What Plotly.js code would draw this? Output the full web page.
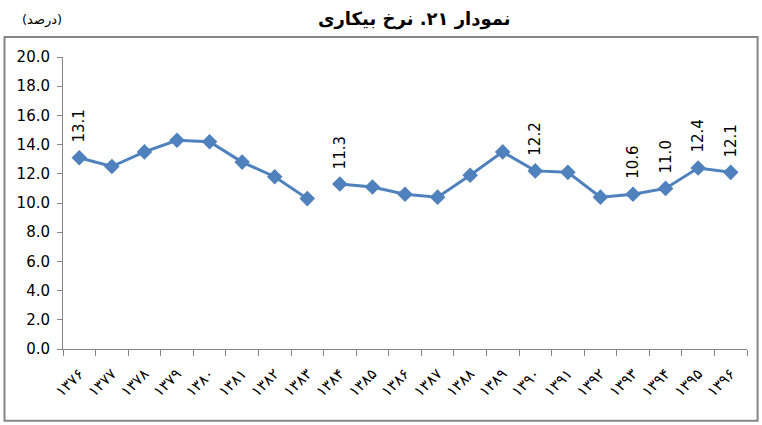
<!DOCTYPE html>
<html>
<head>
<meta charset="utf-8">
<script src="https://cdn.plot.ly/plotly-3.0.1.min.js"></script>
<style>html,body{margin:0;padding:0;background:#fff;}#chart{width:762px;height:425px;}</style>
</head>
<body>
<div id="chart"></div>
<script>
// Years (Persian digits), as categories
const years = ['۱۳۷۶','۱۳۷۷','۱۳۷۸','۱۳۷۹','۱۳۸۰','۱۳۸۱','۱۳۸۲','۱۳۸۳','۱۳۸۴','۱۳۸۵','۱۳۸۶','۱۳۸۷','۱۳۸۸','۱۳۸۹','۱۳۹۰','۱۳۹۱','۱۳۹۲','۱۳۹۳','۱۳۹۴','۱۳۹۵','۱۳۹۶'];
// Unemployment rate (%)
const rates = [13.1,12.5,13.5,14.3,14.2,12.8,11.8,10.3,11.3,11.1,10.6,10.4,11.9,13.5,12.2,12.1,10.4,10.6,11.0,12.4,12.1];
// The line breaks after this year
const breakAfter = '۱۳۸۳';
// Years that carry a data label
const labelledYears = ['۱۳۷۶','۱۳۸۴','۱۳۹۰','۱۳۹۳','۱۳۹۴','۱۳۹۵','۱۳۹۶'];
const titleText = 'نمودار ۲۱. نرخ بیکاری';
const unitText = '(درصد)';

const cut = years.indexOf(breakAfter) + 1;
const style = {
  type: 'scatter', mode: 'lines+markers',
  line: {color: '#4F81BD', width: 3},
  marker: {symbol: 'diamond', size: 12, color: '#4F81BD'},
  hoverinfo: 'skip', showlegend: false
};
const traces = [
  Object.assign({x: years.slice(0, cut), y: rates.slice(0, cut)}, style),
  Object.assign({x: years.slice(cut), y: rates.slice(cut)}, style)
];

const annotations = labelledYears.map(yr => {
  const v = rates[years.indexOf(yr)];
  return {
    x: yr, y: v, xref: 'x', yref: 'y', text: v.toFixed(1), textangle: -90,
    showarrow: false, xanchor: 'center', yanchor: 'bottom', yshift: 13,
    font: {family: 'DejaVu Sans, sans-serif', size: 15, color: '#000'}
  };
});
annotations.push({
  xref: 'paper', yref: 'paper', x: 0.514, y: 1.13, xanchor: 'center', yanchor: 'middle',
  text: '<b>' + titleText + '</b>', showarrow: false,
  font: {family: 'DejaVu Sans, sans-serif', size: 18, color: '#000'}
});
annotations.push({
  xref: 'paper', yref: 'paper', x: -0.031, y: 1.128, xanchor: 'center', yanchor: 'middle',
  text: unitText, showarrow: false,
  font: {family: 'DejaVu Sans, sans-serif', size: 13, color: '#000'}
});

const layout = {
  width: 762, height: 425,
  margin: {l: 63, r: 15, t: 57, b: 76},
  paper_bgcolor: '#fff', plot_bgcolor: '#fff',
  xaxis: {
    type: 'category', categoryorder: 'array', categoryarray: years,
    range: [-0.5, years.length - 0.5], autorange: false,
    showline: true, linecolor: '#868686', linewidth: 1,
    ticks: 'outside', tickson: 'boundaries', ticklen: 6, tickcolor: '#868686',
    showgrid: false, zeroline: false, tickangle: -45, ticklabelstandoff: 9,
    tickfont: {family: 'DejaVu Sans, sans-serif', size: 15, color: '#000'}
  },
  yaxis: {
    range: [0, 20], autorange: false, dtick: 2, tick0: 0, tickformat: '.1f',
    showline: true, linecolor: '#868686', linewidth: 1,
    ticks: 'outside', ticklen: 5, tickcolor: '#868686', ticklabelstandoff: 4,
    showgrid: false, zeroline: false,
    tickfont: {family: 'DejaVu Sans, sans-serif', size: 15, color: '#000'}
  },
  shapes: [{
    type: 'rect', xref: 'paper', yref: 'paper',
    x0: -0.0855, x1: 1.0155, y0: -0.2455, y1: 1.0685,
    line: {color: '#868686', width: 2}
  }],
  annotations: annotations
};

Plotly.newPlot('chart', traces, layout, {displayModeBar: false, staticPlot: true});
</script>
</body>
</html>
